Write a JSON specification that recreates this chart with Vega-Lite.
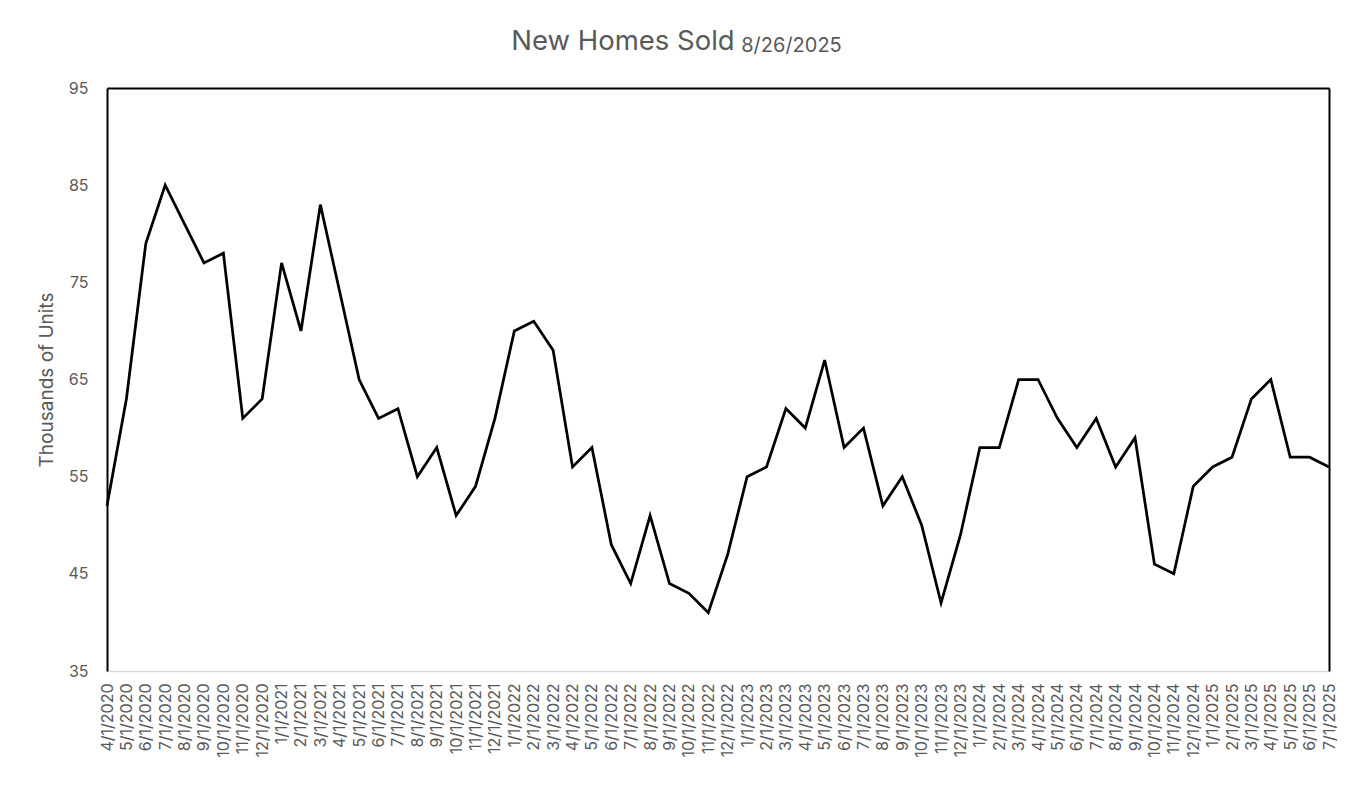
{
  "$schema": "https://vega.github.io/schema/vega-lite/v6.json",
  "width": 1222,
  "height": 583,
  "autosize": {"type": "none"},
  "padding": {"left": 107, "top": 88, "right": 27, "bottom": 119},
  "background": "white",
  "config": {
    "view": {"stroke": null},
    "font": "Inter"
  },
  "title": {
    "text": "New Homes Sold",
    "font": "Inter",
    "fontSize": 27.5,
    "fontWeight": "normal",
    "color": "#595959",
    "anchor": "middle",
    "dx": -95,
    "offset": -42,
    "baseline": "alphabetic"
  },
  "data": {
    "values": [
      {"date": "4/1/2020", "sold": 52},
      {"date": "5/1/2020", "sold": 63},
      {"date": "6/1/2020", "sold": 79},
      {"date": "7/1/2020", "sold": 85},
      {"date": "8/1/2020", "sold": 81},
      {"date": "9/1/2020", "sold": 77},
      {"date": "10/1/2020", "sold": 78},
      {"date": "11/1/2020", "sold": 61},
      {"date": "12/1/2020", "sold": 63},
      {"date": "1/1/2021", "sold": 77},
      {"date": "2/1/2021", "sold": 70},
      {"date": "3/1/2021", "sold": 83},
      {"date": "4/1/2021", "sold": 74},
      {"date": "5/1/2021", "sold": 65},
      {"date": "6/1/2021", "sold": 61},
      {"date": "7/1/2021", "sold": 62},
      {"date": "8/1/2021", "sold": 55},
      {"date": "9/1/2021", "sold": 58},
      {"date": "10/1/2021", "sold": 51},
      {"date": "11/1/2021", "sold": 54},
      {"date": "12/1/2021", "sold": 61},
      {"date": "1/1/2022", "sold": 70},
      {"date": "2/1/2022", "sold": 71},
      {"date": "3/1/2022", "sold": 68},
      {"date": "4/1/2022", "sold": 56},
      {"date": "5/1/2022", "sold": 58},
      {"date": "6/1/2022", "sold": 48},
      {"date": "7/1/2022", "sold": 44},
      {"date": "8/1/2022", "sold": 51},
      {"date": "9/1/2022", "sold": 44},
      {"date": "10/1/2022", "sold": 43},
      {"date": "11/1/2022", "sold": 41},
      {"date": "12/1/2022", "sold": 47},
      {"date": "1/1/2023", "sold": 55},
      {"date": "2/1/2023", "sold": 56},
      {"date": "3/1/2023", "sold": 62},
      {"date": "4/1/2023", "sold": 60},
      {"date": "5/1/2023", "sold": 67},
      {"date": "6/1/2023", "sold": 58},
      {"date": "7/1/2023", "sold": 60},
      {"date": "8/1/2023", "sold": 52},
      {"date": "9/1/2023", "sold": 55},
      {"date": "10/1/2023", "sold": 50},
      {"date": "11/1/2023", "sold": 42},
      {"date": "12/1/2023", "sold": 49},
      {"date": "1/1/2024", "sold": 58},
      {"date": "2/1/2024", "sold": 58},
      {"date": "3/1/2024", "sold": 65},
      {"date": "4/1/2024", "sold": 65},
      {"date": "5/1/2024", "sold": 61},
      {"date": "6/1/2024", "sold": 58},
      {"date": "7/1/2024", "sold": 61},
      {"date": "8/1/2024", "sold": 56},
      {"date": "9/1/2024", "sold": 59},
      {"date": "10/1/2024", "sold": 46},
      {"date": "11/1/2024", "sold": 45},
      {"date": "12/1/2024", "sold": 54},
      {"date": "1/1/2025", "sold": 56},
      {"date": "2/1/2025", "sold": 57},
      {"date": "3/1/2025", "sold": 63},
      {"date": "4/1/2025", "sold": 65},
      {"date": "5/1/2025", "sold": 57},
      {"date": "6/1/2025", "sold": 57},
      {"date": "7/1/2025", "sold": 56}
    ]
  },
  "layer": [
    {
      "mark": {"type": "line", "color": "black", "strokeWidth": 2.75, "strokeJoin": "miter"},
      "encoding": {
        "x": {
          "field": "date",
          "type": "ordinal",
          "sort": null,
          "scale": {"type": "point", "padding": 0},
          "axis": {
            "orient": "bottom",
            "title": null,
            "labelAngle": -90,
            "labelFont": "Inter",
            "labelFontSize": 16,
            "labelColor": "#595959",
            "labelPadding": 12,
            "ticks": false,
            "tickSize": 0,
            "domainColor": "#d9d9d9",
            "domainWidth": 1.5,
            "grid": false,
            "labelOverlap": false
          }
        },
        "y": {
          "field": "sold",
          "type": "quantitative",
          "scale": {"domain": [35, 95], "nice": false, "zero": false},
          "axis": {
            "orient": "left",
            "title": "Thousands of Units",
            "titleFont": "Inter",
            "titleFontSize": 19,
            "titleFontWeight": "normal",
            "titleColor": "#595959",
            "titlePadding": 11,
            "values": [35, 45, 55, 65, 75, 85, 95],
            "labelFont": "Inter",
            "labelFontSize": 16,
            "labelColor": "#595959",
            "labelPadding": 19,
            "ticks": false,
            "tickSize": 0,
            "domainColor": "black",
            "domainWidth": 2,
            "grid": false
          }
        }
      }
    },
    {
      "mark": {"type": "line", "strokeOpacity": 0},
      "encoding": {
        "x": {
          "field": "date",
          "type": "ordinal",
          "sort": null,
          "axis": {
            "orient": "top",
            "title": "8/26/2025",
            "titleFont": "Inter",
            "titleFontSize": 20,
            "titleFontWeight": "normal",
            "titleColor": "#595959",
            "titleX": 684,
            "titleY": -37,
            "titleAlign": "center",
            "titleBaseline": "alphabetic",
            "labels": false,
            "ticks": false,
            "tickSize": 0,
            "domainColor": "black",
            "domainWidth": 2,
            "grid": false
          }
        },
        "y": {
          "field": "sold",
          "type": "quantitative",
          "axis": {
            "orient": "right",
            "title": null,
            "labels": false,
            "ticks": false,
            "tickSize": 0,
            "domainColor": "black",
            "domainWidth": 2,
            "grid": false
          }
        }
      }
    }
  ],
  "resolve": {"axis": {"x": "independent", "y": "independent"}}
}
